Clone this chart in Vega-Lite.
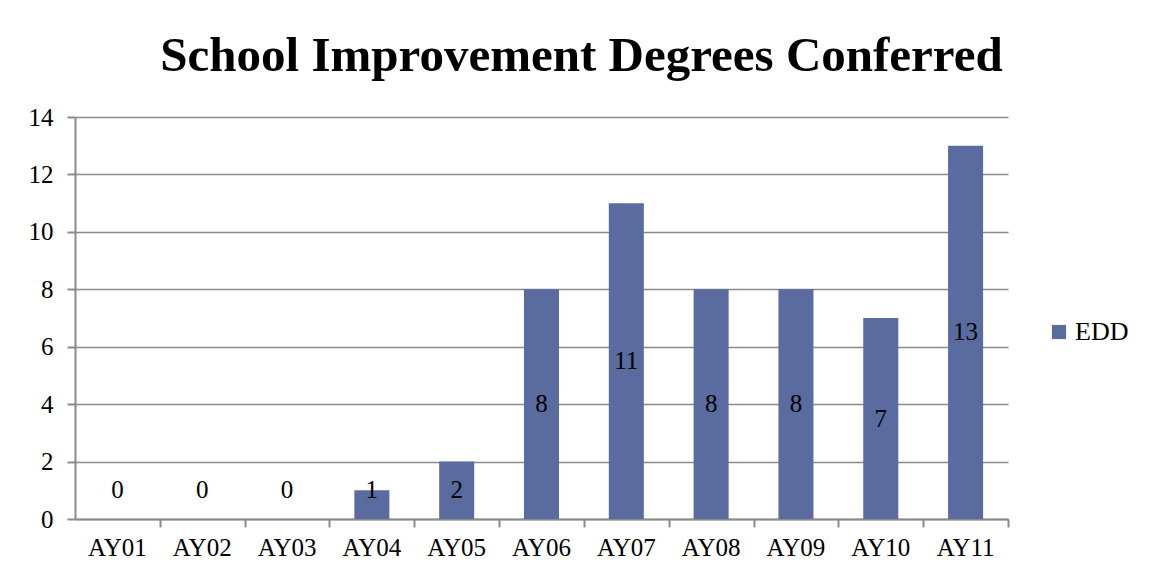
{
  "$schema": "https://vega.github.io/schema/vega-lite/v6.json",
  "autosize": "none",
  "width": 933,
  "height": 402,
  "padding": {"left": 75, "top": 117, "right": 143, "bottom": 59},
  "background": "white",
  "config": {
    "view": {"stroke": null}
  },
  "title": {
    "text": "School Improvement Degrees Conferred",
    "font": "Liberation Serif",
    "fontSize": 49,
    "fontWeight": "bold",
    "color": "black",
    "anchor": "middle",
    "frame": "group",
    "dx": 40,
    "offset": 24
  },
  "data": {
    "values": [
      {"year": "AY01", "EDD": 0},
      {"year": "AY02", "EDD": 0},
      {"year": "AY03", "EDD": 0},
      {"year": "AY04", "EDD": 1},
      {"year": "AY05", "EDD": 2},
      {"year": "AY06", "EDD": 8},
      {"year": "AY07", "EDD": 11},
      {"year": "AY08", "EDD": 8},
      {"year": "AY09", "EDD": 8},
      {"year": "AY10", "EDD": 7},
      {"year": "AY11", "EDD": 13}
    ]
  },
  "layer": [
    {
      "mark": {"type": "bar", "color": "#5a6b9f"},
      "encoding": {
        "x": {
          "field": "year",
          "type": "nominal",
          "sort": null,
          "scale": {"paddingInner": 0.587, "paddingOuter": 0.2935},
          "axis": {
            "title": null,
            "labelAngle": 0,
            "labelFont": "Liberation Serif",
            "labelFontSize": 25,
            "labelColor": "black",
            "labelPadding": 16,
            "ticks": false,
            "domainColor": "#8a8a8a",
            "domainWidth": 2
          }
        },
        "y": {
          "field": "EDD",
          "type": "quantitative",
          "scale": {"domain": [0, 14], "nice": false},
          "axis": {
            "title": null,
            "values": [0, 2, 4, 6, 8, 10, 12, 14],
            "labelFont": "Liberation Serif",
            "labelFontSize": 25,
            "labelColor": "black",
            "labelPadding": 14,
            "tickSize": 8,
            "tickColor": "#8a8a8a",
            "tickWidth": 2,
            "domainColor": "#8a8a8a",
            "domainWidth": 2,
            "grid": true,
            "gridColor": "#8a8a8a",
            "gridWidth": 1.5
          }
        },
        "color": {
          "datum": "EDD",
          "type": "nominal",
          "scale": {"range": ["#5a6b9f"]},
          "legend": {
            "title": null,
            "orient": "none",
            "legendX": 971,
            "legendY": 202,
            "symbolType": "square",
            "symbolSize": 200,
            "symbolStrokeWidth": 0,
            "labelFont": "Liberation Serif",
            "labelFontSize": 26,
            "labelColor": "black",
            "labelOffset": 3
          }
        }
      }
    },
    {
      "mark": {"type": "text", "baseline": "middle", "align": "center", "font": "Liberation Serif", "fontSize": 25, "color": "black"},
      "encoding": {
        "x": {
          "field": "year",
          "type": "nominal",
          "sort": null,
          "axis": {
            "title": null,
            "orient": "bottom",
            "labels": false,
            "domain": false,
            "ticks": true,
            "tickSize": 8,
            "tickColor": "#8a8a8a",
            "tickWidth": 2,
            "tickOffset": 42.41
          }
        },
        "y": {
          "field": "EDD",
          "type": "quantitative",
          "scale": {"domain": [2, 28], "nice": false, "zero": false, "clamp": true, "range": [{"expr": "height*26/28"}, 0]},
          "axis": null
        },
        "text": {"field": "EDD", "type": "quantitative"}
      }
    }
  ],
  "resolve": {"scale": {"y": "independent"}, "axis": {"x": "independent"}}
}
